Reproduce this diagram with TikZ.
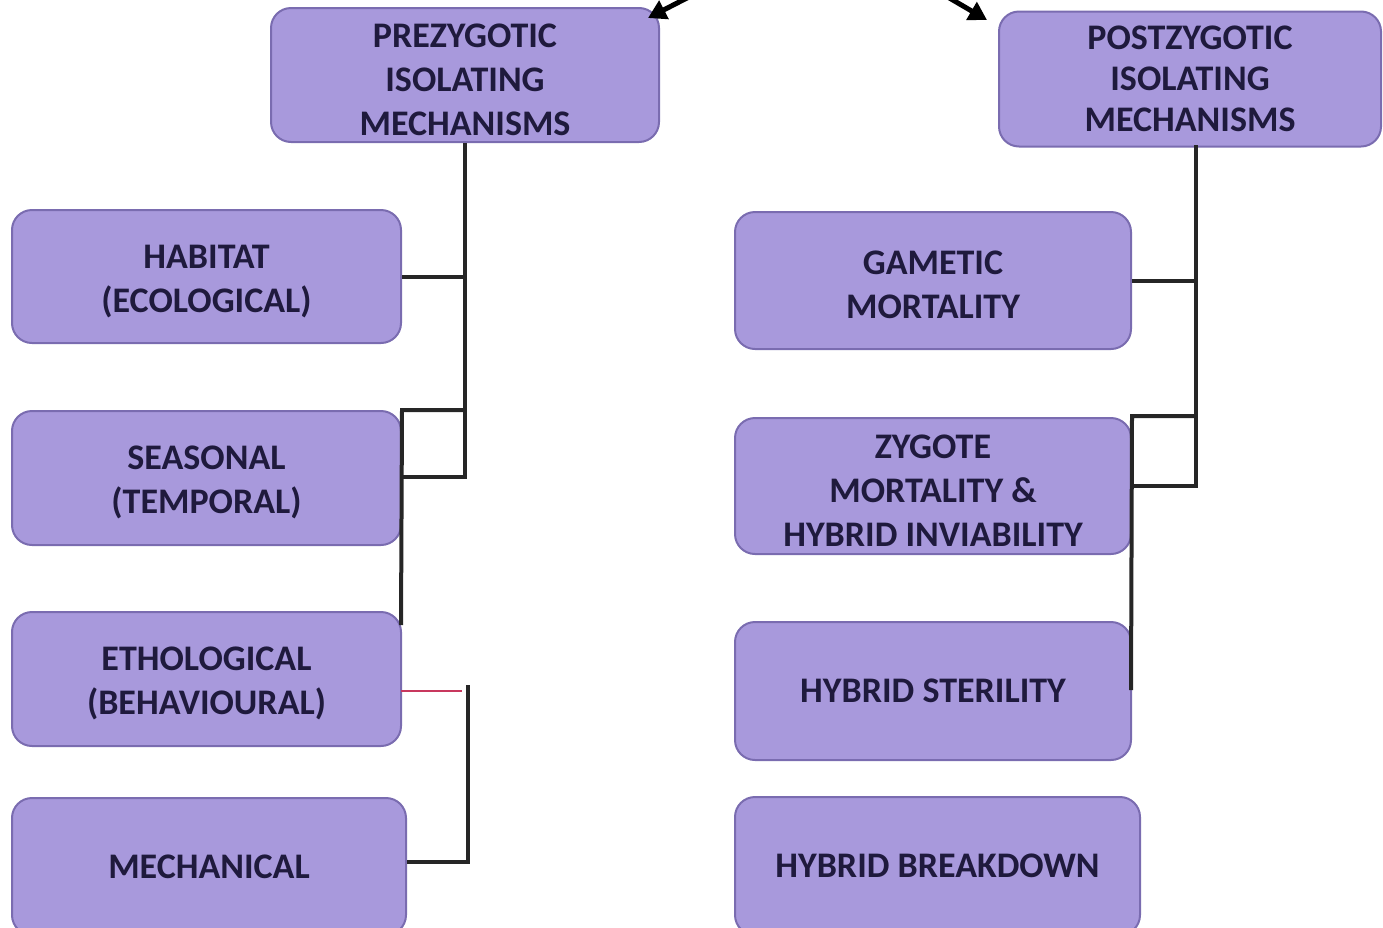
\documentclass[tikz,border=0pt]{standalone}
\usepackage{fontspec}
\setmainfont{Carlito}
\usetikzlibrary{arrows.meta}
\definecolor{boxfill}{HTML}{A899DC}
\definecolor{boxline}{HTML}{7A6CB0}
\definecolor{txt}{HTML}{1F1A3D}
\definecolor{redline}{HTML}{C8385E}
\newcommand\tup{\rule{0pt}{33pt}}
\begin{document}
\begin{tikzpicture}[x=1pt,y=-1pt,
  box/.style={draw=boxline, line width=2pt, fill=boxfill, rounded corners=20pt, align=center, text=txt,
    font=\bfseries\fontsize{36}{44}\selectfont, inner sep=0pt},
  conn/.style={line width=4pt, draw=black!85},
  arr/.style={line width=5pt, draw=black, -{Triangle[length=18pt,width=20pt]}}]
\useasboundingbox (0,0) rectangle (1383,927);
\clip (0,0) rectangle (1383,927);
% left column
\node[box, minimum width=388pt, minimum height=134pt] (pre) at (465,75) {\tup PREZYGOTIC\\ISOLATING\\MECHANISMS};
\node[box, minimum width=389pt, minimum height=133pt] (hab) at (206.5,276.5) {\tup HABITAT\\(ECOLOGICAL)};
\node[box, minimum width=389pt, minimum height=134pt] (sea) at (206.5,478) {\tup SEASONAL\\(TEMPORAL)};
\node[box, minimum width=389pt, minimum height=134pt] (eth) at (206.5,679) {\tup ETHOLOGICAL\\(BEHAVIOURAL)};
\node[box, minimum width=394pt, minimum height=137pt] (mec) at (209,866.5) {MECHANICAL};
% right column
\node[box, minimum width=382pt, minimum height=135pt, font=\bfseries\fontsize{36}{41}\selectfont] (post) at (1190,79) {POSTZYGOTIC\\ISOLATING\\MECHANISMS};
\node[box, minimum width=396pt, minimum height=137pt] (gam) at (933,280.5) {\tup GAMETIC\\MORTALITY};
\node[box, minimum width=396pt, minimum height=136pt] (zyg) at (933,486) {\tup ZYGOTE\\MORTALITY \&\\HYBRID INVIABILITY};
\node[box, minimum width=396pt, minimum height=138pt] (ste) at (933,691) {HYBRID STERILITY};
\node[box, minimum width=405pt, minimum height=138pt] (brk) at (937.5,866) {HYBRID BREAKDOWN};
% arrows at top
\coordinate (a1) at (720,-19);
\coordinate (a2) at (905,-28);
\draw[arr] (a1) -- (648,18);
\draw[arr] (a2) -- (987,20);
% left connectors
\coordinate (lt) at (465,477);
\coordinate (lb) at (465,410);
\coordinate (lv) at (401,625);
\draw[conn] (pre.south) -- (lt) -- (lt -| sea.east);
\draw[conn] (hab.east) -- (hab.east -| pre.south);
\draw[conn] (lb) -- (lb -| sea.east) -- (lv);
\coordinate (r1) at (401,691);
\coordinate (r2) at (462,691);
\draw[redline, line width=2pt] (r1) -- (r2);
\coordinate (m1) at (468,685);
\coordinate (m2) at (468,862);
\draw[conn] (m1) -- (m2) -- (m2 -| mec.east);
% right connectors
\coordinate (pt) at (1196,145);
\coordinate (rt) at (1196,486);
\coordinate (rb) at (1196,416);
\coordinate (rv) at (1131,690);
\draw[conn] (pt) -- (rt) -- (rt -| zyg.east);
\draw[conn] (gam.east) -- (gam.east -| pt);
\draw[conn] (rb) -- (rb -| zyg.east) -- (rv);
\end{tikzpicture}
\end{document}
